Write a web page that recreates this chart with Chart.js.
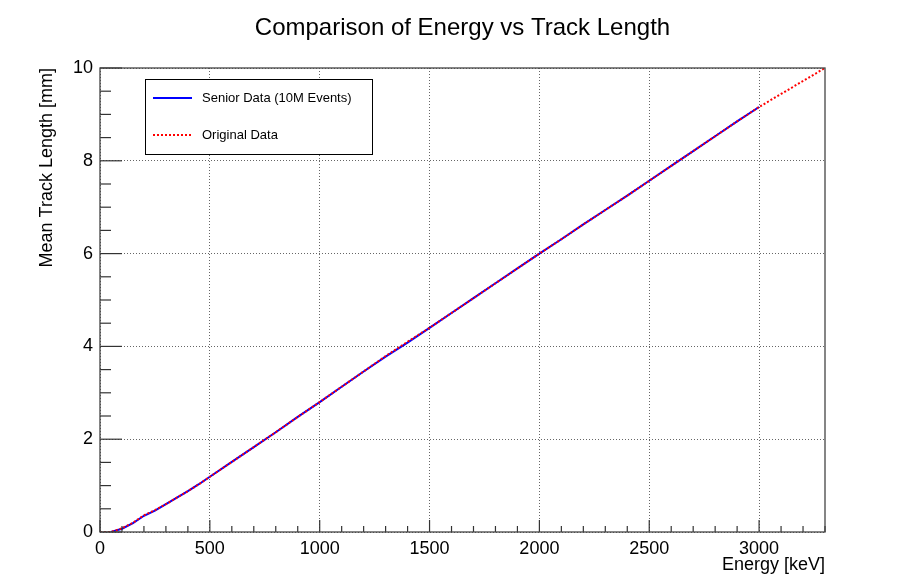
<!DOCTYPE html>
<html>
<head>
<meta charset="utf-8">
<title>Comparison of Energy vs Track Length</title>
<script src="https://cdn.jsdelivr.net/npm/chart.js@4/dist/chart.umd.min.js"></script>
<style>
  html, body { margin: 0; padding: 0; background: #fff; }
  #wrap { width: 906px; height: 585px; }
</style>
</head>
<body>
<div id="wrap"><canvas id="chart" width="906" height="585"></canvas></div>
<script>
// energy [keV] and mean track length [mm]
const seniorEnergy = [50, 100, 150, 200, 250, 300, 350, 400, 450, 500, 600, 700, 800, 900, 1000,
  1100, 1200, 1300, 1400, 1500, 1600, 1700, 1800, 1900, 2000, 2100, 2200, 2300, 2400, 2500,
  2600, 2700, 2800, 2900, 3000];
const seniorLength = [0.00, 0.07, 0.19, 0.35, 0.46, 0.60, 0.74, 0.88, 1.03, 1.19, 1.51, 1.83, 2.15, 2.48, 2.80,
  3.13, 3.46, 3.78, 4.08, 4.40, 4.72, 5.04, 5.36, 5.68, 6.00, 6.31, 6.63, 6.94, 7.25, 7.57,
  7.89, 8.21, 8.53, 8.85, 9.16];

const originalEnergy = [0, 50, 100, 150, 200, 250, 300, 350, 400, 450, 500, 600, 700, 800, 900, 1000,
  1100, 1200, 1300, 1400, 1500, 1600, 1700, 1800, 1900, 2000, 2100, 2200, 2300, 2400, 2500,
  2600, 2700, 2800, 2900, 3000, 3100, 3200, 3300];
const originalLength = [0.00, 0.00, 0.08, 0.20, 0.36, 0.47, 0.60, 0.74, 0.88, 1.03, 1.19, 1.51, 1.83, 2.15, 2.48, 2.80,
  3.13, 3.46, 3.79, 4.10, 4.40, 4.72, 5.04, 5.36, 5.68, 6.00, 6.31, 6.63, 6.94, 7.25, 7.57,
  7.89, 8.21, 8.53, 8.85, 9.16, 9.44, 9.72, 10.00];

const xTicks = [0, 500, 1000, 1500, 2000, 2500, 3000];
const yTicks = [0, 2, 4, 6, 8, 10];
const xMinorStep = 100;
const yMinorStep = 0.5;

const FONT = "'Liberation Sans', Arial, Helvetica, sans-serif";

function toPoints(xs, ys) {
  return xs.map((x, i) => ({ x: x, y: ys[i] }));
}

// ROOT style: frame, inward ticks, title and legend box
const rootStyle = {
  id: 'rootStyle',
  afterDraw(chart) {
    const ctx = chart.ctx;
    const a = chart.chartArea;
    const xs = chart.scales.x;
    const ys = chart.scales.y;

    ctx.save();
    ctx.strokeStyle = '#333';
    ctx.lineWidth = 1.2;

    // x ticks, pointing up into the frame
    for (let v = xs.min; v <= xs.max + 1e-6; v += xMinorStep) {
      const px = xs.getPixelForValue(v);
      const len = xTicks.includes(v) ? 12 : 6;
      ctx.beginPath();
      ctx.moveTo(px, a.bottom);
      ctx.lineTo(px, a.bottom - len);
      ctx.stroke();
    }
    // y ticks, pointing right into the frame
    for (let v = ys.min; v <= ys.max + 1e-6; v += yMinorStep) {
      const py = ys.getPixelForValue(v);
      const len = yTicks.includes(v) ? 22 : 11;
      ctx.beginPath();
      ctx.moveTo(a.left, py);
      ctx.lineTo(a.left + len, py);
      ctx.stroke();
    }

    ctx.strokeStyle = '#444';
    ctx.lineWidth = 1.3;
    ctx.strokeRect(a.left, a.top, a.right - a.left, a.bottom - a.top);

    // title
    ctx.fillStyle = '#000';
    ctx.font = '24px ' + FONT;
    ctx.textAlign = 'center';
    ctx.textBaseline = 'middle';
    ctx.fillText('Comparison of Energy vs Track Length', (a.left + a.right) / 2, 28);

    // legend
    const lx = 145, ly = 79, lw = 227, lh = 75;
    ctx.fillStyle = '#fff';
    ctx.fillRect(lx, ly, lw, lh);
    ctx.strokeStyle = '#000';
    ctx.lineWidth = 1;
    ctx.strokeRect(lx + 0.5, ly + 0.5, lw, lh);

    const rows = [chart.data.datasets[0], chart.data.datasets[1]];
    const rowY = [98, 135];
    ctx.font = '13px ' + FONT;
    ctx.textAlign = 'left';
    rows.forEach((ds, i) => {
      ctx.strokeStyle = ds.borderColor;
      ctx.lineWidth = 2;
      ctx.setLineDash(ds.borderDash || []);
      ctx.beginPath();
      ctx.moveTo(153, rowY[i]);
      ctx.lineTo(192, rowY[i]);
      ctx.stroke();
      ctx.setLineDash([]);
      ctx.fillStyle = '#000';
      ctx.fillText(ds.label, 202, rowY[i]);
    });
    ctx.restore();
  }
};

new Chart(document.getElementById('chart').getContext('2d'), {
  type: 'scatter',
  data: {
    datasets: [{
      label: 'Senior Data (10M Events)',
      data: toPoints(seniorEnergy, seniorLength),
      showLine: true,
      borderColor: '#0000ff',
      borderWidth: 2,
      pointRadius: 0,
      order: 1
    }, {
      label: 'Original Data',
      data: toPoints(originalEnergy, originalLength),
      showLine: true,
      borderColor: '#ff0000',
      borderWidth: 2,
      borderDash: [2, 2],
      pointRadius: 0,
      order: 0
    }]
  },
  options: {
    responsive: false,
    animation: false,
    layout: { padding: { top: 68, right: 81, bottom: 0, left: 0 } },
    plugins: {
      legend: { display: false },
      tooltip: { enabled: false },
      title: { display: false }
    },
    scales: {
      x: {
        type: 'linear',
        min: 0,
        max: 3300,
        afterBuildTicks: s => { s.ticks = xTicks.map(v => ({ value: v })); },
        afterFit: s => { s.height = 53; },
        grid: { color: '#666', lineWidth: 1, drawTicks: false },
        border: { display: false, dash: [1, 2] },
        ticks: {
          color: '#000', padding: 6, font: { family: FONT, size: 18 }, maxRotation: 0,
          callback: v => String(v)
        },
        title: {
          display: true, text: 'Energy [keV]', align: 'end', color: '#000',
          font: { family: FONT, size: 18 }, padding: { top: 0, bottom: 9 }
        }
      },
      y: {
        type: 'linear',
        min: 0,
        max: 10,
        afterBuildTicks: s => { s.ticks = yTicks.map(v => ({ value: v })); },
        afterFit: s => { s.width = 100; },
        grid: { color: '#666', lineWidth: 1, drawTicks: false },
        border: { display: false, dash: [1, 2] },
        ticks: {
          color: '#000', padding: 7, font: { family: FONT, size: 18 },
          callback: v => String(v)
        },
        title: {
          display: true, text: 'Mean Track Length [mm]', align: 'end', color: '#000',
          font: { family: FONT, size: 18 }, padding: { top: 36, bottom: 0 }
        }
      }
    }
  },
  plugins: [rootStyle]
});
</script>
</body>
</html>
